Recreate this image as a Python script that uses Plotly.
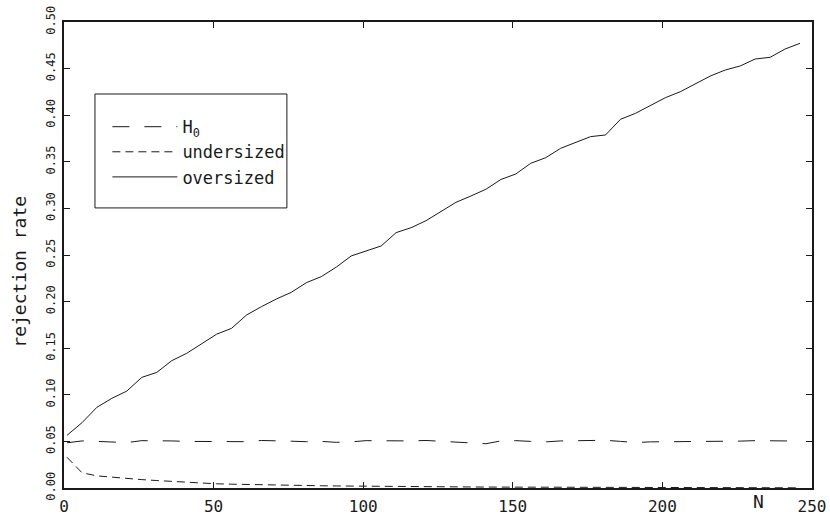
import plotly.graph_objects as go

# ---- data ----
sample_size = list(range(1, 250, 5))  # N = 1, 6, ..., 246

h0_rate = [0.0485, 0.0505, 0.0500, 0.0490, 0.0487, 0.0508, 0.0510, 0.0505, 0.0500, 0.0500,
           0.0495, 0.0495, 0.0497, 0.0510, 0.0510, 0.0502, 0.0497, 0.0500, 0.0490, 0.0495,
           0.0508, 0.0508, 0.0500, 0.0505, 0.0510, 0.0500, 0.0490, 0.0482, 0.0475, 0.0505,
           0.0508, 0.0500, 0.0495, 0.0505, 0.0510, 0.0512, 0.0512, 0.0500, 0.0488, 0.0495,
           0.0495, 0.0500, 0.0497, 0.0497, 0.0500, 0.0503, 0.0508, 0.0510, 0.0505, 0.0505]

undersized_rate = [0.0330, 0.0164, 0.0130, 0.0115, 0.0102, 0.0090, 0.0080, 0.0070, 0.0060, 0.0052,
                   0.0045, 0.0041, 0.0037, 0.0034, 0.0031, 0.0029, 0.0026, 0.0024, 0.0022, 0.0020,
                   0.0019, 0.0017, 0.0016, 0.0015, 0.0014, 0.0013, 0.0012, 0.0011, 0.0010, 0.0010,
                   0.0009, 0.0008, 0.0008, 0.0007, 0.0007, 0.0006, 0.0006, 0.0005, 0.0005, 0.0005,
                   0.0004, 0.0004, 0.0004, 0.0003, 0.0003, 0.0003, 0.0003, 0.0002, 0.0002, 0.0002]

oversized_rate = [0.0565, 0.0700, 0.0866, 0.0962, 0.1040, 0.1187, 0.1240, 0.1366, 0.1445, 0.1545,
                  0.1650, 0.1713, 0.1856, 0.1946, 0.2028, 0.2100, 0.2203, 0.2268, 0.2370, 0.2490,
                  0.2547, 0.2597, 0.2740, 0.2793, 0.2868, 0.2965, 0.3065, 0.3133, 0.3205, 0.3310,
                  0.3369, 0.3484, 0.3544, 0.3645, 0.3710, 0.3770, 0.3788, 0.3956, 0.4020, 0.4100,
                  0.4188, 0.4252, 0.4335, 0.4420, 0.4485, 0.4528, 0.4603, 0.4621, 0.4710, 0.4771]

series_names = ["H<sub>0</sub>", "undersized", "oversized"]

x_tick_values = [0, 50, 100, 150, 200, 250]
x_tick_labels = ["0", "50", "100", "150", "200", "250"]
y_tick_values = [0.00, 0.05, 0.10, 0.15, 0.20, 0.25, 0.30, 0.35, 0.40, 0.45, 0.50]
y_tick_labels = ["0.00", "0.05", "0.10", "0.15", "0.20", "0.25", "0.30", "0.35", "0.40", "0.45", "0.50"]

y_title = "rejection rate"
x_title = "N"

FONT = "DejaVu Sans Mono"
INK = "#1a1a1a"

fig = go.Figure()
fig.add_trace(go.Scatter(x=sample_size, y=h0_rate, mode="lines", name=series_names[0],
                         line=dict(color=INK, width=1, dash="17px,15px")))
fig.add_trace(go.Scatter(x=sample_size, y=undersized_rate, mode="lines", name=series_names[1],
                         line=dict(color=INK, width=1, dash="8px,5px")))
fig.add_trace(go.Scatter(x=sample_size, y=oversized_rate, mode="lines", name=series_names[2],
                         line=dict(color=INK, width=1)))

fig.update_layout(
    width=830, height=515, autosize=False,
    margin=dict(l=64, r=18, t=22, b=27, pad=0),
    paper_bgcolor="white", plot_bgcolor="white",
    font=dict(family=FONT, color=INK),
    showlegend=True,
    legend=dict(x=0.058, y=0.813, xanchor="left", yanchor="top",
                bgcolor="rgba(0,0,0,0)", borderwidth=0,
                font=dict(family=FONT, size=17, color=INK),
                itemwidth=65, tracegroupgap=0),
    xaxis=dict(range=[0, 250], tickmode="array", tickvals=x_tick_values, ticktext=x_tick_labels,
               showline=True, linewidth=2, linecolor=INK, mirror="allticks",
               ticks="inside", ticklen=6, tickwidth=1, tickcolor=INK,
               showgrid=False, zeroline=False, ticklabelstandoff=3, automargin=False,
               ticklabeloverflow="allow",
               tickfont=dict(family=FONT, size=16, color=INK)),
    yaxis=dict(range=[0, 0.5], tickmode="array", tickvals=y_tick_values, ticktext=y_tick_labels,
               showline=True, linewidth=2, linecolor=INK, mirror="allticks",
               ticks="inside", ticklen=6, tickwidth=1, tickcolor=INK,
               showgrid=False, zeroline=False, tickangle=-90, ticklabelstandoff=2,
               automargin=False, ticklabeloverflow="allow",
               tickfont=dict(family=FONT, size=12, color=INK)),
)

# legend frame
fig.add_shape(type="rect", xref="paper", yref="paper",
              x0=0.0414, x1=0.298, y0=0.601, y1=0.8455,
              line=dict(color=INK, width=1), fillcolor="rgba(0,0,0,0)", layer="above")

# axis titles
fig.add_annotation(text=y_title, xref="paper", yref="y", x=-0.059, y=0.232,
                   textangle=-90, showarrow=False, xanchor="center", yanchor="middle",
                   font=dict(family=FONT, size=18, color=INK))
fig.add_annotation(text=x_title, xref="x", yref="paper", x=232, y=-0.028,
                   showarrow=False, xanchor="center", yanchor="middle",
                   font=dict(family=FONT, size=18, color=INK))

# remove the browser's default page margin so the figure fills the window exactly
fig.write_html("out.html",
               config={"displayModeBar": False},
               post_script="document.body.style.margin='0';document.body.style.overflow='hidden';")
